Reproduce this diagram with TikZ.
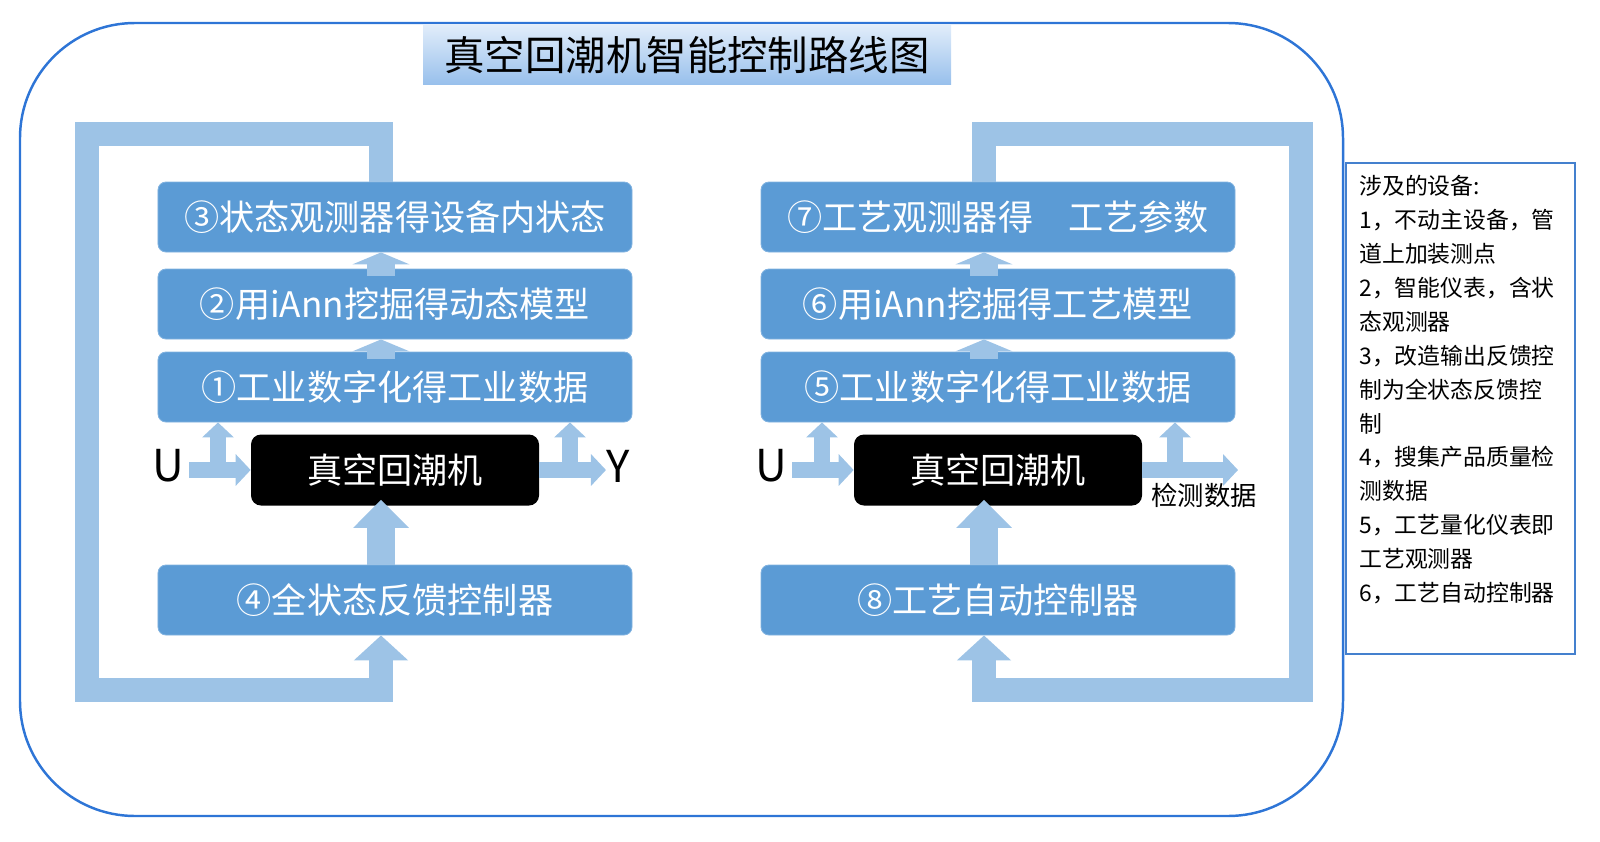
\documentclass[tikz,border=0pt]{standalone}
\usepackage{fontspec}
\setmainfont{Noto Sans CJK SC}
\usepackage{xcolor}
\usetikzlibrary{arrows.meta}

\definecolor{boxblue}{RGB}{91,155,213}
\definecolor{boxedge}{RGB}{128,178,224}
\definecolor{bandblue}{RGB}{157,195,230}
\definecolor{frameblue}{RGB}{46,117,214}
\definecolor{titletop}{RGB}{224,236,250}
\definecolor{titlebot}{RGB}{152,192,236}
\definecolor{noteblue}{RGB}{68,128,206}

\tikzset{
	stepbox/.style={rectangle, rounded corners=1.6mm, fill=boxblue, draw=boxedge, line width=0.5pt,
		minimum width=94.8mm, minimum height=14mm, inner sep=0pt, text=white,
		font=\fontsize{20pt}{24pt}\selectfont},
	machine/.style={rectangle, rounded corners=2mm, fill=black, minimum width=57.6mm,
		minimum height=14.2mm, inner sep=0pt, text=white, font=\fontsize{20pt}{24pt}\selectfont},
	titlebar/.style={rectangle, top color=titletop, bottom color=titlebot, minimum width=105.6mm,
		minimum height=11.7mm, inner sep=0pt, font=\fontsize{23pt}{27pt}\selectfont},
	sig/.style={inner sep=0pt, font=\fontsize{25pt}{30pt}\selectfont},
	datalabel/.style={inner sep=0pt, font=\fontsize{15pt}{18pt}\selectfont},
	notetext/.style={anchor=north west, align=left, inner sep=0pt, font=\fontsize{13pt}{19.3pt}\selectfont},
	fbband/.style={draw=bandblue, line width=4.8mm, -{Triangle[width=10.6mm,length=5mm]}},
	fatarrow/.style={draw=bandblue, line width=5.6mm, -{Triangle[width=10.8mm,length=5.6mm]}},
	stackarrow/.style={draw=bandblue, line width=5.6mm, -{Triangle[width=11.4mm,length=2.4mm]}},
	tarrow/.style={draw=bandblue, line width=3.2mm, -{Triangle[width=6.2mm,length=3mm]}}
}

\begin{document}
\begin{tikzpicture}[x=0.2mm,y=-0.2mm]
	\useasboundingbox (0,0) rectangle (1600,841);
	% 外框
	\draw[frameblue, line width=1.4pt, rounded corners=23mm] (20,23) rectangle (1343,816);
	% 标题
	\node[titlebar] (title) at (687,55) {真空回潮机智能控制路线图};
	
	% 左边：设备状态控制
	\node[stepbox] (s3) at (395,217) {③状态观测器得设备内状态};
	\node[stepbox] (s2) at (395,304) {②用iAnn挖掘得动态模型};
	\node[stepbox] (s1) at (395,387) {①工业数字化得工业数据};
	\node[machine] (m1) at (395,470) {真空回潮机};
	\node[stepbox] (s4) at (395,600) {④全状态反馈控制器};
	\node[sig] (u1) at (168,466) {U};
	\node[sig] (y1) at (618,466) {Y};
	
	% 右边：工艺控制
	\node[stepbox] (s7) at (998,217) {⑦工艺观测器得　工艺参数};
	\node[stepbox] (s6) at (998,304) {⑥用iAnn挖掘得工艺模型};
	\node[stepbox] (s5) at (998,387) {⑤工业数字化得工业数据};
	\node[machine] (m2) at (998,470) {真空回潮机};
	\node[stepbox] (s8) at (998,600) {⑧工艺自动控制器};
	\node[sig] (u2) at (771,466) {U};
	\node[datalabel] (d2) at (1204,495) {检测数据};
	
	% 箭头所在的列
	\coordinate (aL) at (381,0);
	\coordinate (aR) at (984,0);
	% 反馈回路的拐点
	\coordinate (fL1) at (87,134);
	\coordinate (fL2) at (87,690);
	\coordinate (fR1) at (1301,134);
	\coordinate (fR2) at (1301,690);
	\draw[fbband] (s3.north -| aL) |- (fL1) -- (fL2) -| (s4.south -| aL);
	\draw[fbband] (s7.north -| aR) |- (fR1) -- (fR2) -| (s8.south -| aR);
	
	% 框之间的箭头
	\draw[stackarrow, shorten <=-1.4mm] (s1.north -| aL) -- (s2.south -| aL);
	\draw[stackarrow, shorten <=-1.4mm] (s2.north -| aL) -- (s3.south -| aL);
	\draw[stackarrow, shorten <=-1.4mm] (s5.north -| aR) -- (s6.south -| aR);
	\draw[stackarrow, shorten <=-1.4mm] (s6.north -| aR) -- (s7.south -| aR);
	\draw[fatarrow, shorten >=-1.2mm] (s4.north -| aL) -- (m1.south -| aL);
	\draw[fatarrow, shorten >=-1.2mm] (s8.north -| aR) -- (m2.south -| aR);
	
	% 输入输出
	\coordinate (jL1) at (218,478);
	\coordinate (jL2) at (570,478);
	\coordinate (jR1) at (822,478);
	\coordinate (jR2) at (1175,478);
	\coordinate (outR) at (1238,0);
	\draw[tarrow, shorten <=1mm] (u1.east |- m1.west) -- (m1.west);
	\draw[tarrow] (jL1) -- (jL1 |- s1.south);
	\draw[tarrow] (m1.east) -- (y1.west |- m1.east);
	\draw[tarrow] (jL2) -- (jL2 |- s1.south);
	\draw[tarrow, shorten <=1mm] (u2.east |- m2.west) -- (m2.west);
	\draw[tarrow] (jR1) -- (jR1 |- s5.south);
	\draw[tarrow] (m2.east) -- (outR |- m2.east);
	\draw[tarrow] (jR2) -- (jR2 |- s5.south);
	
	% 设备说明
	\draw[noteblue, line width=0.8pt] (1346,163) rectangle (1575,654);
	\node[notetext] (devs) at (1359,175) {涉及的设备:\\1，不动主设备，管\\道上加装测点\\2，智能仪表，含状\\态观测器\\3，改造输出反馈控\\制为全状态反馈控\\制\\4，搜集产品质量检\\测数据\\5，工艺量化仪表即\\工艺观测器\\6，工艺自动控制器};
\end{tikzpicture}
\end{document}
